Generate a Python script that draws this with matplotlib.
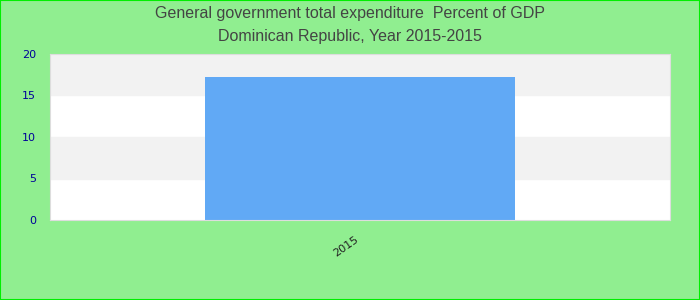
import matplotlib
matplotlib.use("Agg")
import matplotlib.pyplot as plt
from matplotlib.patches import Rectangle

years = ["2015"]
values = [17.25]
y_ticks = [0, 5, 10, 15, 20]

fig = plt.figure(figsize=(7, 3), dpi=100, facecolor="#90ee90")
fig.patches.append(Rectangle((0, 0), 1, 1, transform=fig.transFigure,
                             fill=False, edgecolor="#00ee00", linewidth=1.5))

ax = fig.add_axes([50 / 700, 80 / 300, 620 / 700, 166 / 300])
ax.set_facecolor("white")

# alternating horizontal bands
for i in range(len(y_ticks) - 1):
    if i % 2 == 1:
        ax.axhspan(y_ticks[i], y_ticks[i + 1], color="#f2f2f2", zorder=0)

ax.bar(range(len(years)), values, width=0.5, color="#61a9f5", zorder=2)

ax.set_xlim(-0.5, len(years) - 0.5)
ax.set_ylim(0, 20)
ax.set_yticks(y_ticks)
ax.set_xticks(range(len(years)))
ax.set_xticklabels(years, rotation=35, ha="right", fontsize=8, color="#222222")
ax.tick_params(axis="y", labelsize=8, labelcolor="#000099", length=0, pad=10)
ax.tick_params(axis="x", length=0, pad=10)

for s in ax.spines.values():
    s.set_color("#dddddd")

fig.text(0.5, 0.955, "General government total expenditure  Percent of GDP",
         ha="center", va="center", fontsize=11.5, color="#444444",
         family="Liberation Sans")
fig.text(0.5, 0.877, "Dominican Republic, Year 2015-2015",
         ha="center", va="center", fontsize=11.5, color="#444444",
         family="Liberation Sans")

fig.savefig("out.png", dpi=100, facecolor=fig.get_facecolor())
